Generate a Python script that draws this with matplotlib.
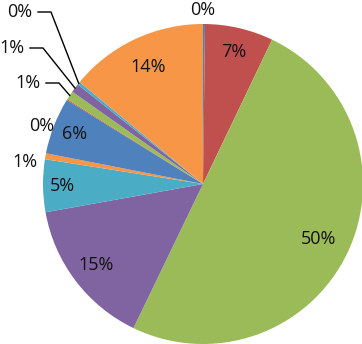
import numpy as np
import matplotlib
matplotlib.use("Agg")
import matplotlib.pyplot as plt

# slice values (percent), clockwise from 12 o'clock
values = [0.2, 6.9, 50.0, 15.0, 5.3, 0.6, 5.7, 0.1, 0.9, 0.9, 0.3, 14.0]
colors = ['#4F81BD', '#C0504D', '#9BBB59', '#8064A2', '#4BACC6', '#F79646',
          '#4F81BD', '#C0504D', '#9BBB59', '#8064A2', '#4BACC6', '#F79646']

total = sum(values)
pcts = [v / total * 100 for v in values]
labels = ['%d%%' % int(p + 0.5) for p in pcts]

W, H = 362, 344
cx, cy, R = 203, 184, 160

fig = plt.figure(figsize=(W / 100, H / 100), dpi=100)
ax = fig.add_axes([0, 0, 1, 1])

wedges, _ = ax.pie(values, colors=colors, startangle=90, counterclock=False,
                   radius=1.0, wedgeprops=dict(linewidth=0))

# pie() sets its own limits, so set ours afterwards
ax.set_xlim(-cx / R, (W - cx) / R)
ax.set_ylim(-(H - cy) / R, cy / R)
ax.set_aspect('equal')
ax.axis('off')

font = dict(family=['Open Sans', 'DejaVu Sans'], fontsize=13, color='#111111')

def px(x, y):
    return (x - cx) / R, (cy - y) / R

# mid angles (radians, clockwise from top)
cum = np.cumsum([0] + pcts)
mids = [(cum[i] + cum[i + 1]) / 2 / 100 * 2 * np.pi for i in range(len(pcts))]

# labels inside big slices
inside = {1: 0.845, 2: 0.8, 3: 0.84, 4: 0.88, 6: 0.86, 11: 0.81}
for i, r in inside.items():
    ax.text(r * np.sin(mids[i]), r * np.cos(mids[i]), labels[i],
            ha='center', va='center', **font)

# outside labels (pixel positions) and whether a leader line is drawn
outside = {0: ((203, 10), False), 5: ((25, 162), False), 7: ((42, 126), False),
           8: ((28, 83), True), 9: ((12, 48), True), 10: ((20, 12), True)}
for i, ((x, y), lead) in outside.items():
    tx, ty = px(x, y)
    ax.text(tx, ty, labels[i], ha='center', va='center', **font)
    if lead:
        x0, _ = px(x + 18, y)
        x1, _ = px(x + 31, y)
        ex, ey = np.sin(mids[i]) * 1.0, np.cos(mids[i]) * 1.0
        ax.plot([x0, x1, ex], [ty, ty, ey], color='black', lw=1)

fig.savefig('out.png', dpi=100)
